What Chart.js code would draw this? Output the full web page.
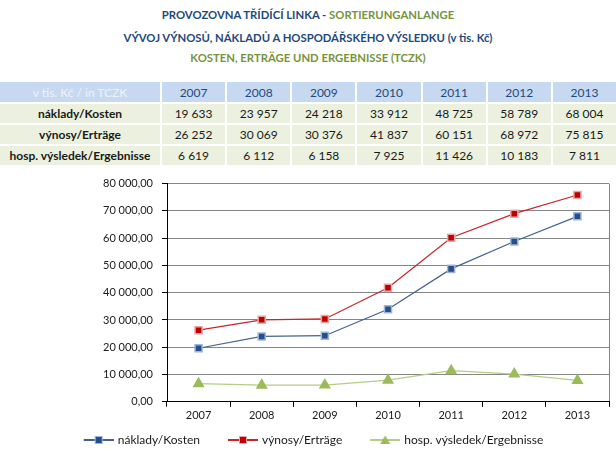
<!DOCTYPE html>
<html>
<head>
<meta charset="utf-8">
<script src="https://cdn.jsdelivr.net/npm/chart.js@4/dist/chart.umd.min.js"></script>
<style>
  body { margin: 0; width: 616px; height: 461px; background: #fff; position: relative; overflow: hidden; font-family: Lato, "Open Sans", sans-serif; }
  .t { position: absolute; left: 0; width: 616px; text-align: center; font-weight: bold; font-size: 11.3px; line-height: 14px; }
  #t1 { top: 8px; } #t2 { top: 31px; } #t3 { top: 51px; }
  .cz { color: #1F497D; } .de { color: #77933C; }
  table { position: absolute; top: 80px; left: -2px; width: 620px; border-spacing: 2px; border-collapse: separate; table-layout: fixed; }
  th, td { padding: 0; text-align: center; font-size: 12px; white-space: nowrap; }
  th { height: 20px; background: #C6D9F1; color: #1F497D; font-weight: normal; }
  th.corner { color: #F2F2F2; }
  td { height: 19px; background: #EBF1DE; color: #1a1a1a; }
  td.lbl { font-weight: bold; }
  #wrap { position: absolute; left: 0; top: 168px; width: 616px; height: 293px; }
</style>
</head>
<body>
<div class="t" id="t1"><span class="cz">PROVOZOVNA TŘÍDÍCÍ LINKA - </span><span class="de">SORTIERUNGANLANGE</span></div>
<div class="t cz" id="t2">VÝVOJ VÝNOSŮ, NÁKLADŮ A HOSPODÁŘSKÉHO VÝSLEDKU (v tis. Kč)</div>
<div class="t de" id="t3">KOSTEN, ERTRÄGE UND ERGEBNISSE (TCZK)</div>
<table id="tbl"></table>
<div id="wrap"><canvas id="chart"></canvas></div>
<script>
// data
const years = ['2007', '2008', '2009', '2010', '2011', '2012', '2013'];
const seriesNames = ['náklady/Kosten', 'výnosy/Erträge', 'hosp. výsledek/Ergebnisse'];
const naklady = [19633, 23957, 24218, 33912, 48725, 58789, 68004];
const vynosy = [26252, 30069, 30376, 41837, 60151, 68972, 75815];
const vysledek = [6619, 6112, 6158, 7925, 11426, 10183, 7811];
const cornerLabel = 'v tis. Kč / in TCZK';

const groupThousands = s => s.replace(/\B(?=(\d{3})+(?!\d))/g, ' ');

// table
const tbl = document.getElementById('tbl');
let html = '<colgroup><col style="width:160px">' + years.map(() => '<col>').join('') + '</colgroup>';
html += '<tr><th class="corner">' + cornerLabel + '</th>' + years.map(y => '<th>' + y + '</th>').join('') + '</tr>';
[naklady, vynosy, vysledek].forEach((vals, i) => {
    html += '<tr><td class="lbl">' + seriesNames[i] + '</td>' +
        vals.map(v => '<td>' + groupThousands(String(v)) + '</td>').join('') + '</tr>';
});
tbl.innerHTML = html;

// legend marks: line with marker, blank space on the left acts as item gap
const MARK_W = 50, GAP = 20;
function legendMark(lineColor, fill, stroke, shape) {
    const c = document.createElement('canvas');
    c.width = MARK_W; c.height = 10;
    const g = c.getContext('2d');
    g.strokeStyle = lineColor; g.lineWidth = 2;
    g.beginPath(); g.moveTo(GAP, 5); g.lineTo(MARK_W, 5); g.stroke();
    const cx = GAP + 15;
    g.fillStyle = fill; g.strokeStyle = stroke; g.lineWidth = 1;
    if (shape === 'triangle') {
        g.beginPath(); g.moveTo(cx, 0.5); g.lineTo(cx + 5, 9); g.lineTo(cx - 5, 9); g.closePath(); g.fill();
    } else {
        g.fillRect(cx - 3.5, 1.5, 7, 7); g.strokeRect(cx - 3.5, 1.5, 7, 7);
    }
    return c;
}

const styles = [
    { line: '#44638F', fill: '#254E8A', stroke: '#9DB5DA', shape: 'rect', r: 5 },
    { line: '#C8262B', fill: '#C00000', stroke: '#E8A6A6', shape: 'rect', r: 5 },
    { line: '#B5CC86', fill: '#9BBB59', stroke: '#9BBB59', shape: 'triangle', r: 5.5 }
];
const marks = styles.map(s => legendMark(s.line, s.fill, s.stroke, s.shape));

const font = { family: 'Lato, "Open Sans", sans-serif', size: 11 };
const fmt = v => {
    const parts = Number(v).toFixed(2).split('.');
    return groupThousands(parts[0]) + ',' + parts[1];
};

new Chart(document.getElementById('chart'), {
    type: 'line',
    data: {
        labels: years,
        datasets: [naklady, vynosy, vysledek].map((vals, i) => ({
            label: seriesNames[i],
            data: vals,
            borderColor: styles[i].line,
            borderWidth: 1.25,
            pointStyle: styles[i].shape,
            pointRadius: styles[i].r,
            pointBackgroundColor: styles[i].fill,
            pointBorderColor: styles[i].stroke,
            pointBorderWidth: 1.5,
            tension: 0
        }))
    },
    options: {
        responsive: true,
        maintainAspectRatio: false,
        animation: false,
        layout: { padding: { left: 0, right: 7, top: 15, bottom: 5 } },
        plugins: {
            tooltip: { enabled: false },
            legend: {
                position: 'bottom',
                labels: {
                    usePointStyle: true,
                    pointStyleWidth: MARK_W - 4,
                    padding: 10,
                    font: { family: font.family, size: 12 },
                    color: '#1a1a1a',
                    generateLabels: chart => chart.data.datasets.map((ds, i) => ({
                        text: ds.label,
                        pointStyle: marks[i],
                        datasetIndex: i,
                        fontColor: '#1a1a1a',
                        fillStyle: 'rgba(0,0,0,0)',
                        strokeStyle: 'rgba(0,0,0,0)',
                        lineWidth: 0,
                        hidden: false
                    }))
                }
            }
        },
        scales: {
            x: {
                offset: true,
                grid: {
                    offset: true,
                    color: ctx => ctx.type === 'scale' ? '#868686' : 'rgba(0,0,0,0)',
                    tickColor: '#000',
                    tickLength: 5
                },
                border: { color: '#000' },
                ticks: { font: font, color: '#1a1a1a', padding: 2 }
            },
            y: {
                min: 0,
                max: 80000,
                ticks: { stepSize: 10000, callback: fmt, font: font, color: '#1a1a1a', padding: 9 },
                grid: { color: '#868686', tickColor: '#000', tickLength: 5 },
                border: { color: '#000' },
                afterFit: scale => { scale.width = 167; }
            }
        }
    }
});
</script>
</body>
</html>
